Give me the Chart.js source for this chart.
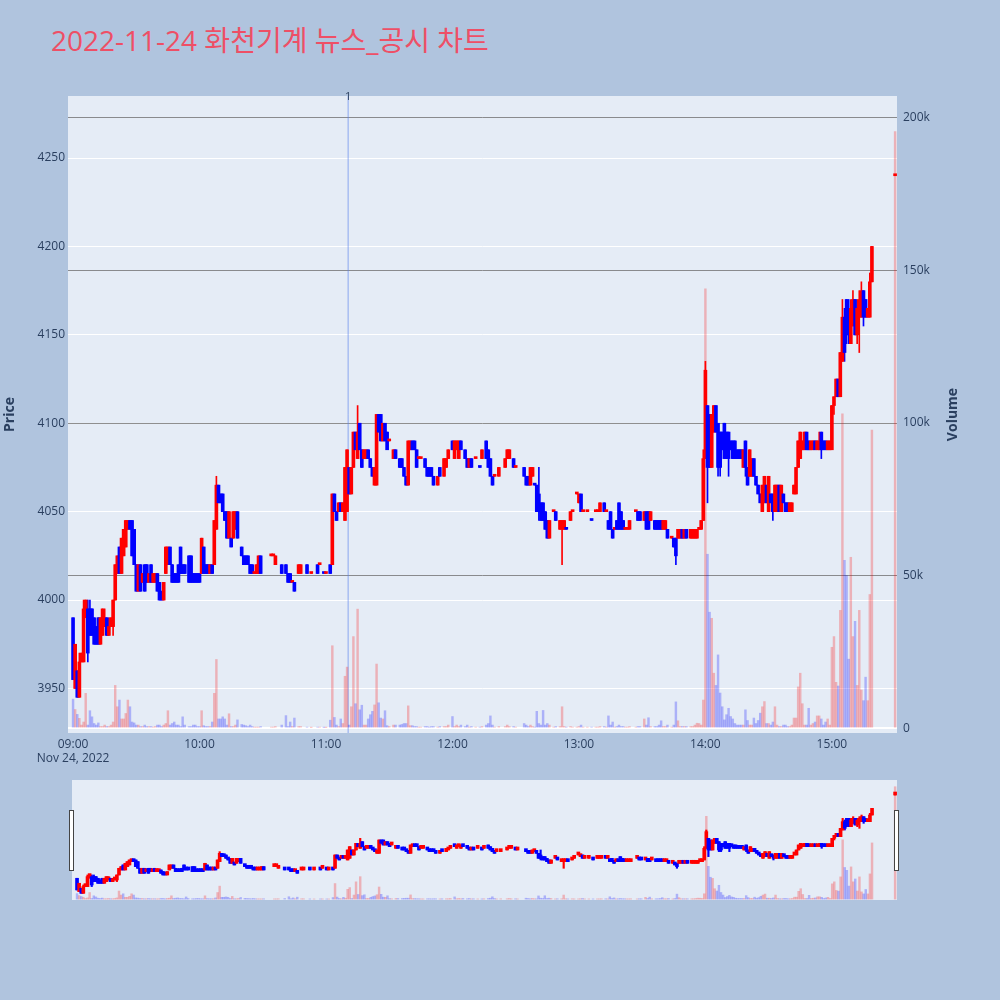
<!DOCTYPE html>
<html>
<head>
<meta charset="utf-8">
<script src="https://cdn.jsdelivr.net/npm/chart.js@4.4.1/dist/chart.umd.min.js"></script>
<style>
  html, body { margin: 0; padding: 0; width: 1000px; height: 1000px; overflow: hidden; background: #b0c4de; }
  #title { position: absolute; left: 51px; top: 25px; font-size: 28px; line-height: 30px; color: #ee4f66;
           font-family: 'Open Sans', 'Noto Sans CJK KR', sans-serif; white-space: nowrap; }
  #main { position: absolute; left: 0; top: 0; }
  #slider { position: absolute; left: 0; top: 780px; }
  .handle { position: absolute; top: 810px; width: 3px; height: 59px; background: #fff; border: 1px solid #444; }
</style>
</head>
<body>
<div id="title">2022-11-24 화천기계 뉴스_공시 차트</div>
<canvas id="main" width="1000" height="780"></canvas>
<canvas id="slider" width="1000" height="120"></canvas>
<div class="handle" style="left:69px"></div>
<div class="handle" style="left:894px"></div>
<script>
// --- axis labels ---
const startTime = '09:00';
const sessionDate = 'Nov 24, 2022';
const timeTicks = ['09:00', '10:00', '11:00', '12:00', '13:00', '14:00', '15:00'];
const priceTicks = [3950, 4000, 4050, 4100, 4150, 4200, 4250];
const volumeTicks = [0, 50000, 100000, 150000, 200000];

// --- news / disclosure markers ---
const newsTimes = ['11:10:30'];
const newsLabels = ['1'];

// --- 1-minute candles, one slot per minute from 09:00 (null = no trade) ---
const opens = [
  3990,3950,3960,3945,3965,3965,3995,3995,3995,3995,
  3990,3985,3990,3975,3980,3985,3990,3980,3985,3985,
  4000,4015,4030,4015,4025,4030,4040,4045,4045,4040,
  4020,4005,4020,4010,4020,4020,4010,4020,4010,4010,
  4015,4010,4005,4000,4015,4020,4030,4020,4015,4015,
  4020,4030,4020,4020,null,4025,4025,4015,4015,4015,
  4015,4015,4030,4020,4020,4015,4020,4020,4040,4065,
  4060,4060,4050,4050,4035,4035,4035,4040,4050,null,
  4030,4025,4025,4025,4020,4020,4015,4015,4015,4025,
  null,null,null,null,4025,4025,4020,null,null,4020,null,
  4020,4015,4015,4010,4010,null,4015,4015,null,null,
  4020,null,4015,null,null,4020,4020,null,4015,4015,
  null,4020,4020,4060,4050,4050,4055,4050,4045,4050,4075,
  4060,4075,4095,4080,4100,4085,4080,4080,4085,4080,
  4075,4065,4065,4105,4105,4090,4100,4095,4090,null,
  4080,4085,null,4080,4080,4075,4070,4065,4085,4090,
  4090,4085,4080,4080,null,4080,4075,4075,4075,4070,
  null,4065,4075,null,4070,4075,4080,null,4090,
  4080,4085,4080,4090,null,4085,4080,4075,4080,null,
  4080,null,4075,4080,null,4090,4085,4080,4070,4070,
  null,4070,null,null,4075,4080,4080,null,4080,4075,
  null,null,null,4075,4070,4070,4065,4070,4065,4065,
  4060,4055,4055,4050,4045,4035,null,4050,4050,null,
  4040,4040,4040,4040,null,4045,4050,null,4060,4055,
  4060,4050,null,4050,null,4045,null,4050,4050,4050,
  null,4055,4050,4045,4050,4040,4040,4045,4055,4050,
  4045,4040,4040,4040,null,null,4050,4050,4050,null,
  4045,4050,4050,4045,null,4045,4045,4045,4045,4040,
  4040,4040,null,4035,4035,4035,4035,4035,4040,4035,
  4040,null,4035,4035,4035,4035,4040,4040,4045,4080,4110,
  4105,4075,4095,4110,4100,4095,4095,4100,4095,4095,
  4090,4090,4090,4085,4085,4085,4075,4090,4075,4070,
  4070,4080,4070,4065,4060,4050,4055,4065,4050,4060,
  4060,4050,4050,4065,4050,4060,4055,4055,4050,
  4050,4060,4060,4075,4080,4085,4085,4095,4090,4085,
  4085,4090,4085,4085,4095,4090,4090,4085,4085,
  4085,4110,4115,4125,4115,4135,4160,4170,4165,4145,
  4155,4170,4150,4160,4160,4175,4170,4160,4160,4180,
  null,null,null,null,null,null,null,null,null,null,
  4240
];
const highs = [
  3990,3975,3960,3970,3970,4000,4000,4000,4000,3995,
  3990,3985,3990,3990,3995,3995,3990,3990,3990,4000,
  4020,4025,4030,4035,4040,4045,4045,4045,4045,4040,
  4020,4020,4020,4015,4020,4020,4015,4020,4015,4015,
  4015,4010,4005,4010,4030,4030,4030,4020,4015,4015,
  4020,4030,4020,4020,null,4025,4025,4015,4015,4015,
  4015,4035,4030,4020,4020,4020,4020,4045,4070,4065,
  4060,4060,4050,4050,4050,4035,4050,4050,4050,null,
  4030,4025,4025,4025,4020,4020,4015,4020,4025,4025,
  null,null,null,null,4025,4025,4025,null,null,4020,null,
  4020,4015,4015,4010,4010,null,4020,4020,null,null,
  4020,null,4015,null,null,4020,4020,null,4015,4015,
  null,4020,4060,4060,4050,4055,4055,4055,4075,4085,4075,
  4075,4095,4095,4110,4100,4085,4085,4085,4085,4080,
  4075,4075,4105,4105,4105,4100,4100,4095,4090,null,
  4085,4085,null,4080,4080,4075,4070,4090,4090,4090,
  4090,4085,4080,4080,null,4080,4075,4075,4075,4070,
  null,4070,4075,null,4080,4080,4085,null,4090,
  4090,4090,4090,4090,null,4085,4080,4080,4080,null,
  4080,null,4075,4085,null,4090,4085,4080,4070,4070,
  null,4075,null,null,4080,4085,4085,null,4080,4075,
  null,null,null,4075,4070,4070,4075,4075,4065,4065,
  4075,4055,4055,4050,4045,4045,null,4050,4050,null,
  4045,4045,4045,4040,null,4050,4050,null,4060,4060,
  4060,4050,null,4050,null,4045,null,4050,4050,4055,
  null,4055,4050,4045,4050,4040,4040,4045,4055,4050,
  4045,4040,4040,4045,null,null,4050,4050,4050,null,
  4050,4050,4050,4050,null,4045,4045,4045,4045,4045,
  4045,4040,null,4035,4035,4035,4040,4040,4040,4040,
  4040,null,4040,4040,4040,4040,4040,4045,4085,4135,4110,
  4105,4105,4110,4110,4100,4095,4095,4100,4095,4095,
  4090,4090,4090,4085,4085,4085,4085,4090,4075,4085,
  4080,4080,4070,4065,4060,4065,4070,4065,4070,4060,
  4060,4065,4065,4065,4065,4060,4055,4055,4055,
  4055,4065,4075,4090,4095,4090,4095,4095,4090,4090,
  4090,4090,4090,4095,4095,4090,4090,4090,4090,
  4110,4115,4125,4125,4140,4170,4165,4170,4170,4170,
  4175,4170,4170,4175,4180,4175,4170,4165,4185,4200,
  null,null,null,null,null,null,null,null,null,null,
  4240
];
const lows = [
  3955,3950,3945,3945,3965,3965,3990,3965,3980,3980,
  3975,3975,3975,3975,3980,3985,3980,3980,3985,3980,
  4000,4015,4015,4015,4025,4030,4040,4040,4025,4020,
  4005,4005,4005,4010,4005,4010,4010,4010,4010,4010,
  4005,4000,4000,4000,4015,4020,4020,4010,4010,4010,
  4010,4015,4015,4015,null,4010,4010,4010,4010,4010,
  4010,4015,4015,4015,4015,4015,4015,4020,4040,4055,
  4055,4050,4045,4035,4035,4030,4035,4040,4035,null,
  4025,4020,4020,4020,4015,4015,4015,4015,4015,4015,
  null,null,null,null,4025,4025,4020,null,null,4015,null,
  4015,4010,4010,4010,4005,null,4015,4015,null,null,
  4015,null,4015,null,null,4015,4020,null,4015,4015,
  null,4015,4020,4050,4045,4050,4050,4050,4045,4050,4060,
  4060,4075,4085,4080,4085,4075,4080,4080,4080,4075,
  4070,4065,4065,4095,4090,4090,4090,4085,4090,null,
  4080,4080,null,4075,4075,4070,4065,4065,4085,4085,
  4085,4075,4080,4080,null,4075,4070,4070,4070,4065,
  null,4065,4070,null,4070,4075,4080,null,4085,
  4080,4085,4080,4085,null,4080,4075,4075,4075,null,
  4080,null,4075,4080,null,4080,4075,4070,4065,4070,
  null,4070,null,null,4075,4080,4080,null,4075,4075,
  null,null,null,4070,4065,4065,4065,4070,4065,4050,
  4045,4045,4045,4040,4035,4035,null,4050,4045,null,
  4040,4020,4040,4040,null,4045,4050,null,4060,4055,
  4050,4050,null,4050,null,4045,null,4050,4050,4050,
  null,4050,4050,4040,4040,4035,4040,4040,4040,4040,
  4040,4040,4040,4040,null,null,4050,4045,4045,null,
  4045,4040,4040,4045,null,4040,4040,4040,4040,4040,
  4040,4035,null,4035,4030,4020,4035,4035,4035,4035,
  4035,null,4035,4035,4035,4035,4040,4040,4045,4080,4055,
  4075,4075,4095,4095,4070,4070,4085,4080,4080,4070,
  4085,4080,4080,4080,4080,4080,4075,4070,4065,4070,
  4070,4070,4065,4060,4055,4050,4055,4055,4050,4055,
  4045,4050,4050,4050,4050,4055,4050,4050,4050,
  4050,4060,4060,4075,4080,4085,4085,4085,4085,4085,
  4085,4085,4085,4085,4080,4085,4085,4085,4085,
  4085,4105,4115,4115,4115,4135,4135,4145,4145,4145,
  4155,4150,4145,4140,4160,4155,4160,4160,4160,4180,
  null,null,null,null,null,null,null,null,null,null,
  4240
];
const closes = [
  3955,3975,3945,3965,3970,3995,4000,3970,3980,3980,
  3975,3975,3975,3990,3995,3990,3980,3985,3990,4000,
  4020,4025,4015,4035,4040,4045,4045,4040,4025,4020,
  4005,4020,4005,4015,4005,4010,4015,4010,4015,4015,
  4005,4000,4000,4010,4030,4030,4020,4010,4010,4010,
  4010,4015,4015,4015,null,4010,4010,4010,4010,4010,
  4010,4035,4015,4015,4015,4020,4015,4045,4065,4055,
  4055,4050,4045,4035,4050,4030,4050,4050,4035,null,
  4025,4020,4020,4020,4015,4015,4015,4020,4025,4015,
  null,null,null,null,4025,4025,4025,null,null,4015,null,
  4015,4010,4010,4010,4005,null,4020,4020,null,null,
  4015,null,4015,null,null,4015,4020,null,4015,4015,
  null,4015,4060,4050,4045,4055,4050,4055,4075,4085,4060,
  4075,4095,4085,4095,4085,4075,4085,4085,4080,4075,
  4070,4075,4105,4095,4090,4100,4090,4085,4090,null,
  4085,4080,null,4075,4075,4070,4065,4090,4090,4085,
  4085,4075,4080,4080,null,4075,4070,4070,4070,4065,
  null,4070,4070,null,4080,4080,4085,null,4085,
  4090,4090,4090,4085,null,4080,4075,4080,4075,null,
  4080,null,4075,4085,null,4080,4075,4070,4065,4070,
  null,4075,null,null,4080,4085,4085,null,4075,4075,
  null,null,null,4070,4065,4065,4075,4075,4065,4050,
  4050,4045,4045,4040,4035,4045,null,4050,4045,null,
  4045,4045,4045,4040,null,4050,4050,null,4060,4060,
  4050,4050,null,4050,null,4045,null,4050,4050,4055,
  null,4050,4050,4040,4040,4035,4040,4040,4040,4040,
  4040,4040,4040,4045,null,null,4050,4045,4045,null,
  4050,4040,4040,4050,null,4040,4040,4040,4040,4045,
  4045,4035,null,4035,4030,4025,4040,4040,4035,4040,
  4035,null,4040,4040,4040,4040,4040,4045,4080,4130,4075,
  4075,4105,4110,4095,4075,4075,4085,4080,4080,4080,
  4085,4080,4080,4080,4080,4080,4085,4075,4065,4085,
  4080,4070,4065,4060,4055,4065,4070,4055,4070,4055,
  4050,4065,4065,4050,4065,4055,4050,4050,4055,
  4055,4065,4075,4090,4095,4090,4095,4085,4085,4090,
  4090,4085,4090,4090,4085,4085,4085,4090,4090,
  4110,4115,4125,4115,4140,4160,4140,4150,4150,4165,
  4170,4150,4165,4170,4175,4160,4160,4165,4180,4200,
  null,null,null,null,null,null,null,null,null,null,
  4240
];
const volumes = [
  9500,6100,4500,3200,1000,2000,11400,1000,5700,3700,
  1500,1000,1700,500,500,1000,500,500,1000,2000,
  14000,7000,9200,3000,3000,4800,9200,7000,2000,1700,
  1000,1000,500,500,1000,500,500,500,300,500,
  1000,1000,500,1000,1500,5700,1000,1500,2000,1000,
  1000,500,3700,1000,null,500,500,1000,1000,500,
  500,5700,800,500,500,500,2000,11400,22500,3000,
  3000,3700,3000,1000,4700,500,500,1000,2700,null,
  1200,1000,800,500,1000,500,300,300,300,500,
  null,null,null,null,300,300,500,null,null,1000,null,
  4100,500,2000,500,3300,null,500,500,null,null,
  300,null,200,null,null,300,300,null,200,200,
  null,2600,27000,3500,1000,500,3000,1500,17000,20000,1000,
  7000,30000,8000,39000,6000,7500,1000,1000,3000,4400,
  5500,7600,21000,8300,3300,3000,5700,800,500,null,
  1000,1000,null,1000,1200,1500,1500,7300,800,800,
  500,500,300,300,null,500,500,300,500,500,
  null,300,500,null,500,500,1000,null,3800,
  500,1000,500,1000,null,500,1000,300,500,null,
  300,null,300,500,null,1000,1500,4000,1000,300,
  null,500,null,null,500,1000,500,null,500,300,
  null,null,null,1500,1000,500,1000,500,300,5500,
  1500,1000,5800,1000,1500,1000,null,300,500,null,
  500,7000,500,300,null,500,300,null,300,500,
  1000,300,null,300,null,300,null,300,300,500,
  null,500,300,4000,1000,2000,300,500,1000,500,
  500,300,300,500,null,null,300,500,500,null,
  3000,1000,3400,500,null,500,500,1000,2400,500,
  500,1000,null,300,1000,8600,2400,500,500,500,
  500,null,500,500,1000,1600,1500,1000,9200,144000,57000,
  38000,36000,18000,14000,24000,11500,7000,2700,4400,6500,
  3800,3000,1500,1000,1000,1000,1000,6000,2500,1000,
  1000,3300,1500,2500,4900,7000,8700,1500,1500,1000,
  2000,7000,1000,500,500,1000,1000,500,500,
  1000,3300,3300,13500,18000,8000,1000,1000,6500,1000,
  1500,2000,4000,4000,3000,1000,2000,3000,1000,
  26500,30000,15000,13800,38600,103000,55000,50000,22600,56000,
  30000,35000,14000,38600,12500,9000,16700,9000,43800,97700,
  null,null,null,null,null,null,null,null,null,null,
  195500
];

// --- colours ---
const upColor = '#ff0000';
const downColor = '#0000ff';
const upVolColor = 'rgba(255,0,0,0.25)';
const downVolColor = 'rgba(0,0,255,0.25)';
const tickColor = '#2a3f5f';
const plotBgColor = '#e5ecf6';
const fontFamily = "'Open Sans', sans-serif";

function toMinute(t) {
    const p = t.split(':').map(Number);
    const s = startTime.split(':').map(Number);
    return (p[0] * 60 + p[1] + (p[2] || 0) / 60) - (s[0] * 60 + s[1]);
}

// --- build bar points from the arrays ---
const volPts = [], wickPts = [], bodyPts = [], candleColors = [], volColors = [];
let prevClose = null;
opens.forEach(function (o, i) {
    if (o === null) return;
    const c = closes[i];
    const up = c > o || (c === o && (prevClose === null || c >= prevClose));
    prevClose = c;
    wickPts.push({ x: i, y: [lows[i], highs[i]] });
    bodyPts.push({ x: i, y: [Math.min(o, c), Math.max(o, c)] });
    volPts.push({ x: i, y: volumes[i] });
    candleColors.push(up ? upColor : downColor);
    volColors.push(up ? upVolColor : downVolColor);
});

const xMin = -2.4, xMax = 390.9;
const priceMin = 3924.8, priceMax = 4285.1;
const volMin = -1600, volMax = 207200;

const plotBg = {
    id: 'plotBg',
    beforeDraw(chart) {
        const { ctx, chartArea: a } = chart;
        ctx.save();
        ctx.fillStyle = plotBgColor;
        ctx.fillRect(a.left, a.top, a.width, a.height);
        ctx.restore();
    }
};

const newsLine = {
    id: 'newsLine',
    beforeDatasetsDraw(chart) {
        const { ctx, chartArea: a, scales: { x } } = chart;
        newsTimes.forEach(function (t, i) {
            const px = x.getPixelForValue(toMinute(t));
            ctx.save();
            ctx.strokeStyle = 'rgba(90,130,235,0.65)';
            ctx.lineWidth = 1;
            ctx.beginPath();
            ctx.moveTo(px, a.top);
            ctx.lineTo(px, a.bottom);
            ctx.stroke();
            ctx.fillStyle = tickColor;
            ctx.font = '11px ' + fontFamily;
            ctx.textAlign = 'center';
            ctx.textBaseline = 'middle';
            ctx.fillText(newsLabels[i], px, a.top + 1);
            ctx.restore();
        });
    }
};

const volumeTitle = {
    id: 'volumeTitle',
    afterDraw(chart) {
        const { ctx, chartArea: a } = chart;
        ctx.save();
        ctx.translate(953, (a.top + a.bottom) / 2);
        ctx.rotate(-Math.PI / 2);
        ctx.fillStyle = tickColor;
        ctx.font = 'bold 14px ' + fontFamily;
        ctx.textAlign = 'center';
        ctx.textBaseline = 'middle';
        ctx.fillText('Volume', 0, 0);
        ctx.restore();
    }
};

function candleDatasets(bodyW, wickW, volW, minLen) {
    return [
        { data: volPts.slice(), yAxisID: 'y1', backgroundColor: volColors, barThickness: volW, grouped: false, order: 3 },
        { data: wickPts.slice(), yAxisID: 'y', backgroundColor: candleColors, barThickness: wickW, grouped: false, order: 2 },
        { data: bodyPts.slice(), yAxisID: 'y', backgroundColor: candleColors, barThickness: bodyW, minBarLength: minLen, grouped: false, order: 1 }
    ];
}

const tickFont = { family: fontFamily, size: 12 };

// --- Main price / volume chart ---
new Chart(document.getElementById('main').getContext('2d'), {
    type: 'bar',
    data: { datasets: candleDatasets(3, 1, 1.8, 2) },
    options: {
        responsive: false,
        animation: false,
        events: [],
        layout: { padding: { top: 96, left: 0, right: 0, bottom: 0 } },
        plugins: { legend: { display: false }, tooltip: { enabled: false } },
        scales: {
            x: {
                type: 'linear', min: xMin, max: xMax, offset: false,
                grid: { display: false, drawTicks: false, offset: false },
                border: { display: false },
                afterBuildTicks: function (s) { s.ticks = timeTicks.map(t => ({ value: toMinute(t) })); },
                afterFit: function (s) { s.height = 47; },
                ticks: {
                    autoSkip: false, maxRotation: 0, padding: 4, color: tickColor, font: tickFont,
                    callback: function (v) {
                        const i = timeTicks.findIndex(t => toMinute(t) === v);
                        return i === 0 ? [timeTicks[0], sessionDate] : timeTicks[i];
                    }
                }
            },
            y: {
                position: 'left', min: priceMin, max: priceMax,
                grid: { color: '#ffffff', lineWidth: 1, drawTicks: false },
                border: { display: false },
                afterBuildTicks: function (s) { s.ticks = priceTicks.map(v => ({ value: v })); },
                afterFit: function (s) { s.width = 68; },
                ticks: { padding: 3, color: tickColor, font: tickFont, callback: v => String(v) },
                title: { display: true, text: 'Price', color: tickColor, font: { family: fontFamily, size: 14, weight: 'bold' }, padding: { top: 2, bottom: 0 } }
            },
            y1: {
                position: 'right', min: volMin, max: volMax,
                grid: {
                    color: ctx => ctx.tick && ctx.tick.value === 0 ? '#ffffff' : 'rgba(105,105,105,0.75)',
                    lineWidth: ctx => ctx.tick && ctx.tick.value === 0 ? 2 : 1,
                    drawTicks: false
                },
                border: { display: false },
                afterBuildTicks: function (s) { s.ticks = volumeTicks.map(v => ({ value: v })); },
                afterFit: function (s) { s.width = 103; },
                ticks: { padding: 6, color: tickColor, font: tickFont, callback: v => v === 0 ? '0' : (v / 1000) + 'k' }
            }
        }
    },
    plugins: [plotBg, newsLine, volumeTitle]
});

// --- Range slider preview ---
new Chart(document.getElementById('slider').getContext('2d'), {
    type: 'bar',
    data: { datasets: candleDatasets(3, 1.5, 1.8, 3) },
    options: {
        responsive: false,
        animation: false,
        events: [],
        layout: { padding: { top: 0, left: 72, right: 103, bottom: 0 } },
        plugins: { legend: { display: false }, tooltip: { enabled: false } },
        scales: {
            x: { type: 'linear', min: xMin, max: xMax, offset: false, display: false },
            y: { min: priceMin, max: priceMax, display: false },
            y1: { min: volMin, max: volMax, display: false }
        }
    },
    plugins: [plotBg]
});
</script>
</body>
</html>
